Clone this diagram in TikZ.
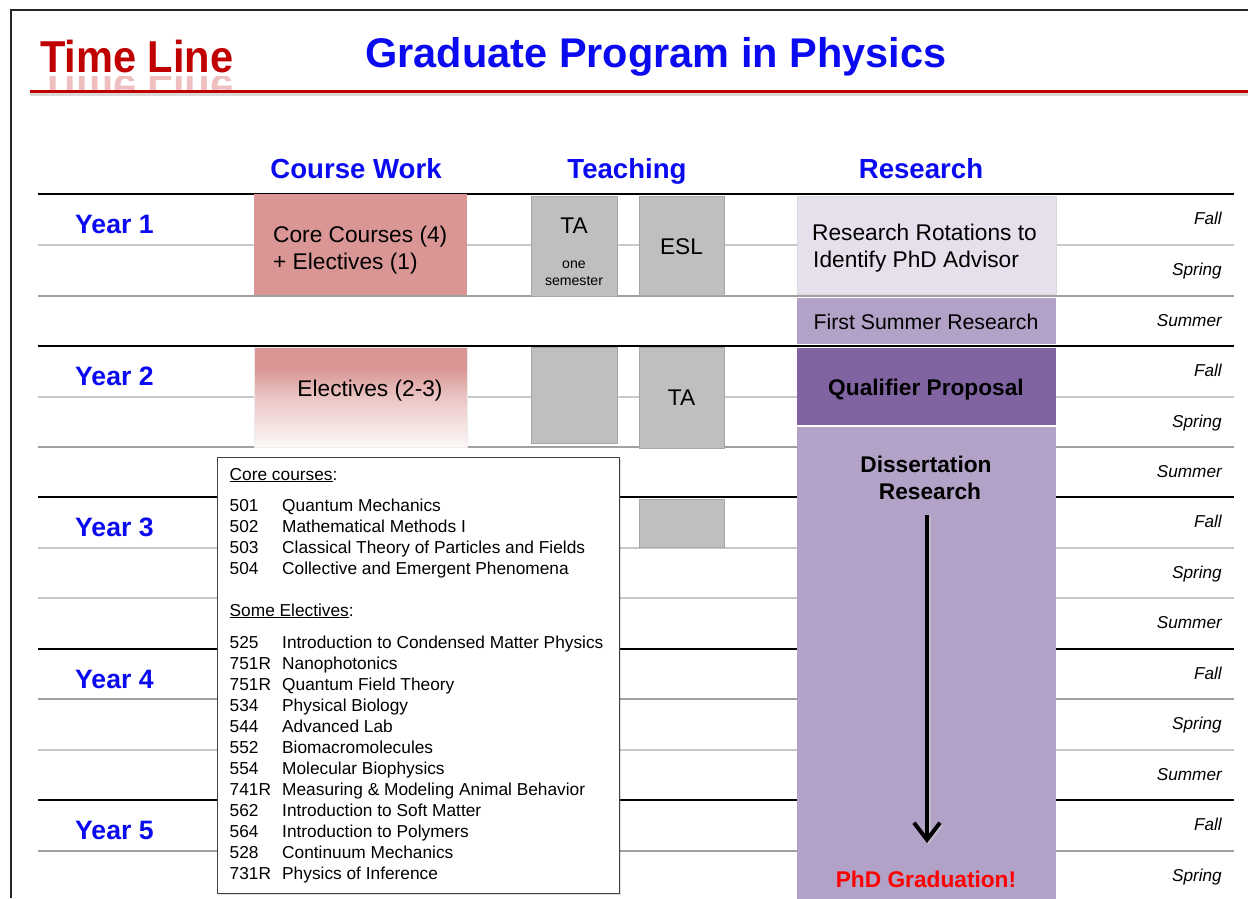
\documentclass[tikz,border=0pt]{standalone}
\usepackage{fontspec}
\setmainfont{Liberation Sans}
\usetikzlibrary{arrows.meta,shadows}
\definecolor{pinkc}{HTML}{D99694}
\definecolor{grayc}{HTML}{BFBFBF}
\definecolor{lavc}{HTML}{E5E0EC}
\definecolor{purc}{HTML}{B2A2C7}
\definecolor{dpurc}{HTML}{8064A2}
\definecolor{bluec}{HTML}{0A0AF0}
\definecolor{redc}{HTML}{C00000}
\definecolor{lightln}{HTML}{C8C8C8}
\definecolor{medln}{HTML}{A0A0A0}
\definecolor{phdred}{HTML}{FF0000}
\pgfdeclareverticalshading{elecfade}{100bp}{color(0bp)=(white); color(25bp)=(white!94!pinkc); color(50bp)=(pinkc!55!white); color(64bp)=(pinkc); color(100bp)=(pinkc)}
\tikzset{
  box/.style={anchor=north west, inner sep=0pt, outer sep=0pt},
  graybox/.style={box, fill=grayc, draw=black!35, line width=0.6pt},
  hdr/.style={font=\fontsize{27.6}{33}\selectfont\bfseries, text=bluec, anchor=base, inner sep=0pt},
  yr/.style={font=\fontsize{26.6}{32}\selectfont\bfseries, text=bluec, anchor=base west, inner sep=0pt},
  season/.style={font=\fontsize{17.2}{20}\selectfont\itshape, anchor=base east, inner sep=0pt},
  btxt/.style={font=\fontsize{22.7}{27}\selectfont, anchor=base, inner sep=0pt},
  bbold/.style={font=\fontsize{22.7}{27}\selectfont\bfseries, anchor=base, inner sep=0pt},
  ltxt/.style={font=\fontsize{17.3}{21}\selectfont, anchor=base west, inner sep=0pt},
  majorrule/.style={line width=2.5pt, black},
  lightrule/.style={line width=1.3pt, lightln},
  medrule/.style={line width=1.3pt, medln},
}
\begin{document}
\begin{tikzpicture}[x=1pt,y=-1pt]
\useasboundingbox (0,0) rectangle (1248,898);
\fill[white] (0,0) rectangle (1248,898);
% frame
\draw[line width=1.5pt, black!85] (11,898) -- (11,10) -- (1248,10);
% title
\node[font=\fontsize{44.7}{50}\selectfont\bfseries, text=redc, anchor=base west, inner sep=0pt] (tl) at (40,72) {\scalebox{0.93}[1]{Time Line}};
\begin{scope}
\clip (30,76) rectangle (250,90);
\node[font=\fontsize{44.7}{50}\selectfont\bfseries, text=redc!25!white, anchor=base west, inner sep=0pt] (tlr) at (40,75) {\scalebox{0.93}[-1]{Time Line}};
\end{scope}
\fill[black, opacity=0.15] (30,92) rectangle (1248,96);
\draw[line width=3pt, redc] (30,91) -- (1248,91);
\node[font=\fontsize{41.5}{48}\selectfont\bfseries, text=bluec, anchor=base, inner sep=0pt] (gt) at (656,67) {Graduate Program in Physics};
% column headers
\node[hdr] (hcw) at (356,178) {Course Work};
\node[hdr] (hte) at (627,178) {Teaching};
\node[hdr] (hre) at (921,178) {Research};
% rules
\foreach \yy in {194,346,497,649,800} \draw[majorrule] (38,\yy) -- (1234,\yy);
\foreach \yy in {245,397,548,598,750} \draw[lightrule] (38,\yy) -- (1234,\yy);
\foreach \yy in {296,447,699,851} \draw[medrule] (38,\yy) -- (1234,\yy);
% year labels
\foreach \n/\yy in {1/233,2/385,3/536,4/688,5/839}
  \node[yr] (year\n) at (75,\yy) {Year \n};
% season labels
\foreach \s/\yy [count=\i] in {Fall/194,Spring/245,Summer/296,Fall/346,Spring/397,Summer/447,Fall/497,Spring/548,Summer/598,Fall/649,Spring/699,Summer/750,Fall/800,Spring/851}
  \node[season] (season\i) at (1222,\yy+30) {\s};
% course work boxes
\node[box, fill=pinkc, minimum width=213pt, minimum height=101pt] (core) at (254,194) {};
\node[btxt, anchor=base west] (core1) at (273,242) {Core Courses (4)};
\node[btxt, anchor=base west] (core2) at (273,269) {+ Electives (1)};
\node[box, shade, shading=elecfade, draw=black!8, line width=0.6pt, minimum width=213pt, minimum height=100pt] (elec) at (254,347) {};
\node[btxt] (electxt) at (370,396) {Electives (2-3)};
% teaching boxes
\node[graybox, minimum width=86pt, minimum height=100pt] (ta1) at (531,196) {};
\node[btxt] (ta1t) at (574,233) {TA};
\node[font=\fontsize{14.1}{17}\selectfont, anchor=base, inner sep=0pt] (ta1a) at (574,268) {one};
\node[font=\fontsize{14.1}{17}\selectfont, anchor=base, inner sep=0pt] (ta1b) at (574,285) {semester};
\node[graybox, minimum width=85pt, minimum height=99pt] (esl) at (639,196) {};
\node[btxt] (eslt) at (681.5,254) {ESL};
\node[graybox, minimum width=86pt, minimum height=96pt] (g2a) at (531,347) {};
\node[graybox, minimum width=85pt, minimum height=101pt] (ta2) at (639,347) {};
\node[btxt] (ta2t) at (681.5,405) {TA};
\node[graybox, minimum width=85pt, minimum height=48pt] (g3) at (639,499) {};
% research boxes
\node[box, fill=lavc, draw=black!15, line width=0.6pt, minimum width=259pt, minimum height=98pt] (rot) at (797,196) {};
\node[btxt, anchor=base west] (rot1) at (812,240) {Research Rotations to};
\node[btxt, anchor=base west] (rot2) at (813,267) {Identify PhD Advisor};
\node[box, fill=purc, minimum width=259pt, minimum height=46pt] (fsr) at (797,298) {};
\node[font=\fontsize{21.3}{26}\selectfont, anchor=base, inner sep=0pt] (fsrt) at (926,329) {First Summer Research};
\node[box, fill=dpurc, minimum width=259pt, minimum height=77pt] (qual) at (797,348) {};
\node[bbold] (qualt) at (926,395) {Qualifier Proposal};
\node[box, fill=purc, minimum width=259pt, minimum height=472pt] (diss) at (797,427) {};
\node[bbold] (diss1) at (926,472) {Dissertation};
\node[bbold] (diss2) at (930,499) {Research};
\node[bbold, text=phdred] (phd) at (926,887) {PhD Graduation!};
\coordinate (arrS) at (927,515);
\coordinate (arrE) at (927,843);
\draw[line width=4pt, -{Straight Barb[length=17pt,width=26pt]}, black!20, opacity=0.6] ([xshift=1.5pt,yshift=-1.5pt]arrS) -- ([xshift=1.5pt,yshift=-1.5pt]arrE);
\draw[line width=4pt, -{Straight Barb[length=17pt,width=26pt]}] (arrS) -- (arrE);
% course list
\node[box, fill=white, draw=black!75, line width=1pt, minimum width=402pt, minimum height=436pt, drop shadow={opacity=0.25, shadow xshift=2pt, shadow yshift=-2pt}] (list) at (217,457) {};
\node[ltxt] (corehd) at (229.5,480) {\underline{Core courses}:};
\foreach \num/\ttl [count=\i] in {501/Quantum Mechanics,502/Mathematical Methods I,503/Classical Theory of Particles and Fields,504/Collective and Emergent Phenomena}{
  \node[ltxt] (cn\i) at (229.5,490+21*\i) {\num};
  \node[ltxt] (ct\i) at (282,490+21*\i) {\ttl};
}
\node[ltxt] (elechd) at (229.5,616) {\underline{Some Electives}:};
\foreach \num/\ttl [count=\i] in {525/Introduction to Condensed Matter Physics,751R/Nanophotonics,751R/Quantum Field Theory,534/Physical Biology,544/Advanced Lab,552/Biomacromolecules,554/Molecular Biophysics,741R/Measuring \& Modeling Animal Behavior,562/Introduction to Soft Matter,564/Introduction to Polymers,528/Continuum Mechanics,731R/Physics of Inference}{
  \node[ltxt] (en\i) at (229.5,627+21*\i) {\num};
  \node[ltxt] (et\i) at (282,627+21*\i) {\ttl};
}
\end{tikzpicture}
\end{document}
